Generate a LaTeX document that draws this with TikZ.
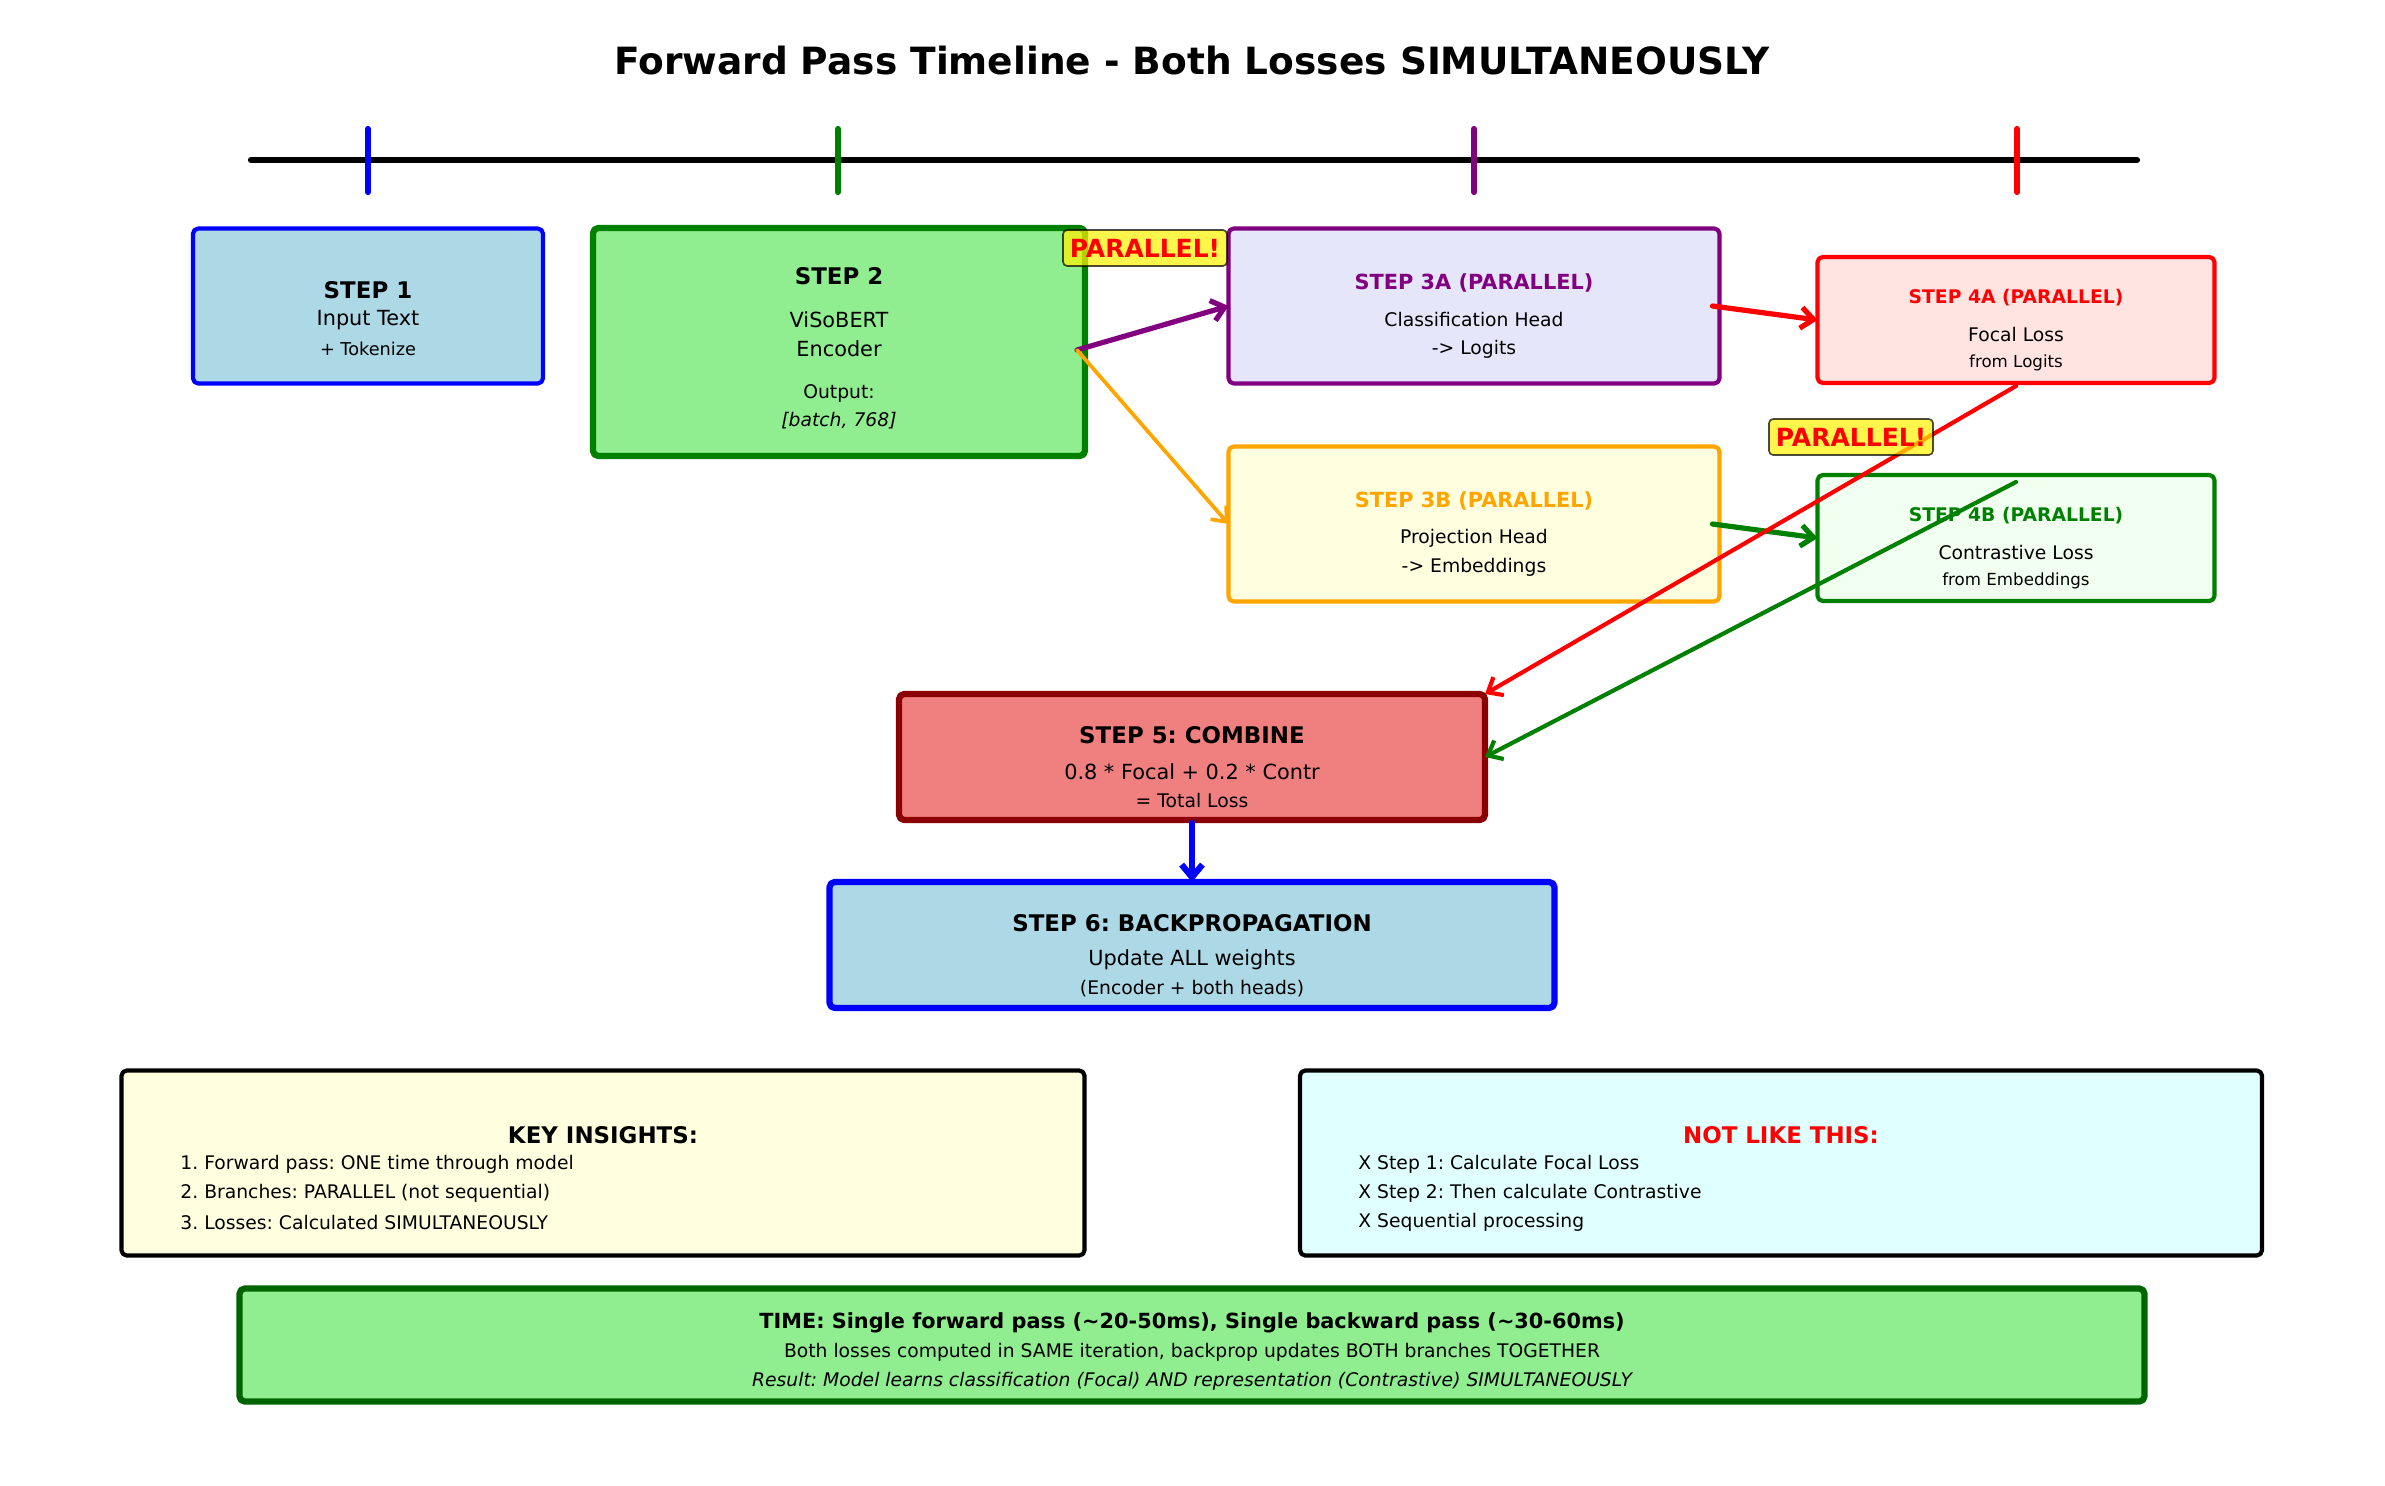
\documentclass[tikz,border=0pt]{standalone}
\usepackage{fontspec}
\setmainfont{DejaVu Sans}
\usetikzlibrary{arrows.meta}

\definecolor{lightblue}{HTML}{ADD8E6}
\definecolor{lightgreen}{HTML}{90EE90}
\definecolor{lavender}{HTML}{E6E6FA}
\definecolor{lightyellow}{HTML}{FFFFE0}
\definecolor{mistyrose}{HTML}{FFE4E1}
\definecolor{honeydew}{HTML}{F0FFF0}
\definecolor{lightcoral}{HTML}{F08080}
\definecolor{darkred}{HTML}{8B0000}
\definecolor{lightcyan}{HTML}{E0FFFF}
\definecolor{mplgreen}{HTML}{008000}
\definecolor{darkgreen}{HTML}{006400}
\definecolor{mplpurple}{HTML}{800080}
\definecolor{mplorange}{HTML}{FFA500}

\newcommand{\fs}[1]{\fontsize{#1}{#1}\selectfont}
\def\pu{0.48pt}
\frenchspacing

\tikzset{
  box/.style={draw, rounded corners=2.5pt, inner sep=0pt, outer sep=0pt},
  txt/.style={inner sep=0pt},
  lft/.style={inner sep=0pt, anchor=west},
  tag/.style={draw=black, draw opacity=0.7, fill=yellow, fill opacity=0.7, text opacity=1,
    text=red, rounded corners=2pt, line width=0.8pt, inner sep=0pt,
    minimum width=164*\pu, minimum height=36*\pu, font=\bfseries\fs{12}},
}

\begin{document}
\begin{tikzpicture}[x=0.48pt,y=-0.48pt, line join=round, line cap=round,
    >={Straight Barb[length=6pt,width=10pt]}]
  \useasboundingbox (0,0) rectangle (2385,1485);

  % --- Tiêu đề ---
  \node[txt, font=\bfseries\fs{18}] (title) at (1192,61) {Forward Pass Timeline - Both Losses SIMULTANEOUSLY};

  % --- Trục thời gian ---
  \draw[line width=3pt] (251,160) -- (2137,160);
  \foreach \x/\c in {368/blue, 838/mplgreen, 1474/mplpurple, 2017/red}
    \draw[\c, line width=3pt] (\x,129) -- (\x,192);

  % --- Bước 1 ---
  \node[box, draw=blue, fill=lightblue, line width=2pt, minimum width=350*\pu, minimum height=155*\pu] (s1) at (368,306) {};
  \node[txt, font=\bfseries\fs{11}] (s1a) at (368,290) {STEP 1};
  \node[txt, font=\fs{10}] (s1b) at (368,320) {Input Text};
  \node[txt, font=\fs{8.5}] (s1c) at (368,349) {+ Tokenize};

  % --- Bước 2: bộ mã hoá ---
  \node[box, draw=mplgreen, fill=lightgreen, line width=3pt, minimum width=492*\pu, minimum height=228*\pu] (s2) at (839,342) {};
  \node[txt, font=\bfseries\fs{11}] (s2a) at (839,276) {STEP 2};
  \node[txt, font=\fs{10}] (s2b) at (839,320) {ViSoBERT};
  \node[txt, font=\fs{10}] (s2c) at (839,349) {Encoder};
  \node[txt, font=\fs{9}] (s2d) at (839,393) {Output:};
  \node[txt, font=\itshape\fs{9}] (s2e) at (839,421) {[batch, 768]};
  \coordinate (s2out) at (1077,350);

  % --- Bước 3A, 3B ---
  \node[box, draw=mplpurple, fill=lavender, line width=2pt, minimum width=491*\pu, minimum height=155*\pu] (s3a) at (1474,306) {};
  \node[txt, text=mplpurple, font=\bfseries\fs{10}] (s3aa) at (1474,283) {STEP 3A (PARALLEL)};
  \node[txt, font=\fs{9}] (s3ab) at (1474,320) {Classification Head};
  \node[txt, font=\fs{9}] (s3ac) at (1474,349) {-> Logits};

  \node[box, draw=mplorange, fill=lightyellow, line width=2pt, minimum width=491*\pu, minimum height=155*\pu] (s3b) at (1474,524) {};
  \node[txt, text=mplorange, font=\bfseries\fs{10}] (s3ba) at (1474,501) {STEP 3B (PARALLEL)};
  \node[txt, font=\fs{9}] (s3bb) at (1474,538) {Projection Head};
  \node[txt, font=\fs{9}] (s3bc) at (1474,567) {-> Embeddings};

  % --- Bước 4A, 4B ---
  \node[box, draw=red, fill=mistyrose, line width=2pt, minimum width=397*\pu, minimum height=126*\pu] (s4a) at (2016,320) {};
  \node[txt, text=red, font=\bfseries\fs{9}] (s4aa) at (2016,298) {STEP 4A (PARALLEL)};
  \node[txt, font=\fs{9}] (s4ab) at (2016,335) {Focal Loss};
  \node[txt, font=\fs{8}] (s4ac) at (2016,363) {from Logits};

  \node[box, draw=mplgreen, fill=honeydew, line width=2pt, minimum width=397*\pu, minimum height=126*\pu] (s4b) at (2016,538) {};
  \node[txt, text=mplgreen, font=\bfseries\fs{9}] (s4ba) at (2016,516) {STEP 4B (PARALLEL)};
  \node[txt, font=\fs{9}] (s4bb) at (2016,553) {Contrastive Loss};
  \node[txt, font=\fs{8}] (s4bc) at (2016,581) {from Embeddings};

  % --- Bước 5, 6 ---
  \node[box, draw=darkred, fill=lightcoral, line width=3pt, minimum width=586*\pu, minimum height=126*\pu] (s5) at (1192,757) {};
  \node[txt, font=\bfseries\fs{11}] (s5a) at (1192,735) {STEP 5: COMBINE};
  \node[txt, font=\fs{10}] (s5b) at (1192,772) {0.8 * Focal + 0.2 * Contr};
  \node[txt, font=\fs{9}] (s5c) at (1192,800) {= Total Loss};

  \node[box, draw=blue, fill=lightblue, line width=3pt, minimum width=725*\pu, minimum height=126*\pu] (s6) at (1192,945) {};
  \node[txt, font=\bfseries\fs{11}] (s6a) at (1192,923) {STEP 6: BACKPROPAGATION};
  \node[txt, font=\fs{10}] (s6b) at (1192,960) {Update ALL weights};
  \node[txt, font=\fs{9}] (s6c) at (1192,989) {(Encoder + both heads)};

  % --- Mũi tên ---
  \draw[->, mplpurple, line width=2.5pt] (s2out) -- (s3a.west);
  \draw[->, mplorange, line width=1.8pt] (s2out) -- (s3b.west);
  \draw[->, red, line width=2.5pt] ([xshift=-7*\pu]s3a.east) -- (s4a.west);
  \draw[->, mplgreen, line width=2.5pt] ([xshift=-7*\pu]s3b.east) -- (s4b.west);
  \draw[->, red, line width=2pt] ([yshift=-3*\pu]s4a.south) -- (s5.north east);
  \draw[->, mplgreen, line width=2pt] ([yshift=-7*\pu]s4b.north) -- (s5.east);
  \draw[->, blue, line width=3pt] ([yshift=-3*\pu]s5.south) -- (s6.north);

  % --- Nhãn PARALLEL ---
  \node[tag] (par1) at (1145,248) {PARALLEL!};
  \node[tag] (par2) at (1851,437) {PARALLEL!};

  % --- Ghi chú ---
  \node[box, draw=black, fill=lightyellow, line width=2pt, minimum width=963*\pu, minimum height=185*\pu] (key) at (603,1163) {};
  \node[txt, font=\bfseries\fs{11}] (keya) at (603,1135) {KEY INSIGHTS:};
  \node[lft, font=\fs{9}] (key1) at (180,1164) {1. Forward pass: ONE time through model};
  \node[lft, font=\fs{9}] (key2) at (180,1193) {2. Branches: PARALLEL (not sequential)};
  \node[lft, font=\fs{9}] (key3) at (180,1222) {3. Losses: Calculated SIMULTANEOUSLY};

  \node[box, draw=black, fill=lightcyan, line width=2pt, minimum width=962*\pu, minimum height=185*\pu] (bad) at (1781,1163) {};
  \node[txt, text=red, font=\bfseries\fs{11}] (bada) at (1781,1135) {NOT LIKE THIS:};
  \node[lft, font=\fs{9}] (bad1) at (1358,1164) {X Step 1: Calculate Focal Loss};
  \node[lft, font=\fs{9}] (bad2) at (1358,1193) {X Step 2: Then calculate Contrastive};
  \node[lft, font=\fs{9}] (bad3) at (1358,1222) {X Sequential processing};

  % --- Thời gian ---
  \node[box, draw=darkgreen, fill=lightgreen, line width=3pt, minimum width=1905*\pu, minimum height=113*\pu] (time) at (1192,1345) {};
  \node[txt, font=\bfseries\fs{10}] (timea) at (1192,1323) {TIME: Single forward pass (\textasciitilde20-50ms), Single backward pass (\textasciitilde30-60ms)};
  \node[txt, font=\fs{9}] (timeb) at (1192,1352) {Both losses computed in SAME iteration, backprop updates BOTH branches TOGETHER};
  \node[txt, font=\itshape\fs{9}] (timec) at (1192,1381) {Result: Model learns classification (Focal) AND representation (Contrastive) SIMULTANEOUSLY};
\end{tikzpicture}
\end{document}
